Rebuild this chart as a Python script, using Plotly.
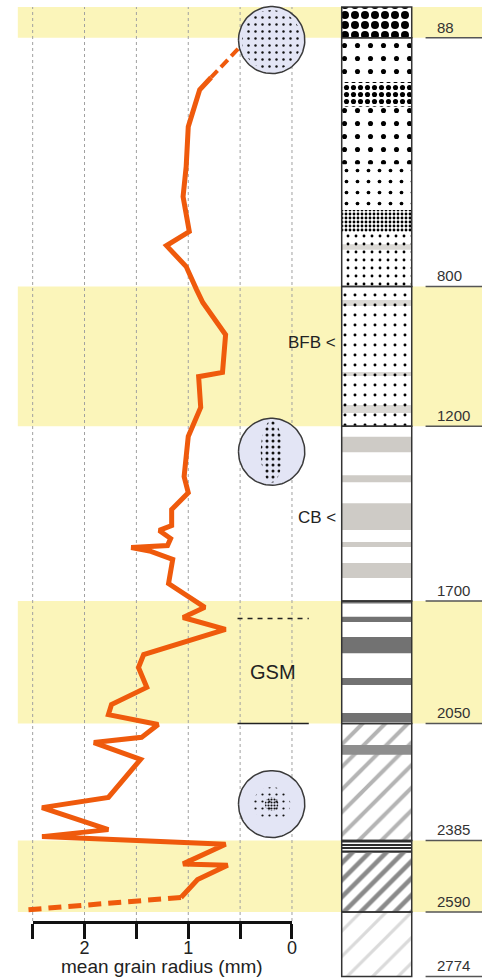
import numpy as np
import plotly.graph_objects as go

W, H = 487, 978

# mean grain radius (mm) against depth (m)
GRAIN_DEPTH = [202, 237, 343, 457, 543, 643, 683, 743, 809, 846, 938, 1046, 1058, 1146, 1229,
               1344, 1390, 1438, 1484, 1498, 1521, 1541, 1547, 1558, 1581, 1650, 1718, 1747, 1781,
               1853, 1890, 1947, 1996, 2025, 2053, 2090, 2105, 2153, 2262, 2291, 2354, 2374, 2396,
               2452, 2456, 2497, 2548]
GRAIN_R = [0.78, 0.89, 1.00, 1.02, 1.05, 0.99, 1.21, 1.02, 0.92, 0.86, 0.64, 0.67, 0.90, 0.88, 1.00,
           1.04, 1.00, 1.16, 1.16, 1.28, 1.17, 1.20, 1.55, 1.36, 1.15, 1.19, 0.84, 1.05, 0.64,
           1.43, 1.48, 1.40, 1.74, 1.77, 1.29, 1.45, 1.91, 1.46, 1.77, 2.41, 1.77, 2.41, 0.64,
           1.05, 0.62, 0.91, 1.07]
# extrapolated ends (dashed)
TOP_EXT_DEPTH = [120, 202]
TOP_EXT_R = [0.52, 0.78]
BOT_EXT_DEPTH = [2548, 2584]
BOT_EXT_R = [1.07, 2.58]

# climate periods (yellow) and unit boundaries
BAND_TOP = [0, 800, 1700, 2385]
BAND_BOTTOM = [88, 1200, 2050, 2590]
UNIT_TOP = [0, 88, 800, 1200, 1700, 2050, 2385, 2590]
UNIT_BOTTOM = [88, 800, 1200, 1700, 2050, 2385, 2590, 2774]

# stratigraphic column sub-layers (drawn in order)
LAYER_TOP = [0, 0, 88, 215, 286, 450, 581, 679, 644, 839, 1045, 1139, 800,
             1230, 1340, 1420, 1531, 1591,
             1700, 1745, 1803, 1920, 2020,
             2050, 2112, 2385, 2397, 2406, 2414, 2420, 2590]
LAYER_BOTTOM = [2774, 88, 215, 286, 450, 581, 644, 695, 800, 856, 1056, 1162, 1200,
                1274, 1360, 1497, 1545, 1634,
                1707, 1760, 1849, 1940, 2046,
                2385, 2140, 2391, 2400, 2409, 2420, 2590, 2774]
LAYER_FACIES = ["ice", "blobs", "coarse", "coarse_dense", "coarse", "medium", "fine_dense",
                "pale_band", "fine", "pale_band", "pale_band", "pale_band", "fine_sparse",
                "stripe", "stripe", "stripe", "stripe", "stripe",
                "dark_band", "dark_band", "dark_band", "dark_band", "dark_band",
                "swirl", "mid_band", "lamina", "lamina", "lamina", "lamina", "swirl_dark",
                "swirl_light"]

# fabric sketches: depth of each circle and its kind
CIRCLE_DEPTH = [95, 1273, 2281]
CIRCLE_KIND = ["random", "girdle", "single"]

GSM_TOP, GSM_BOTTOM = 1750, 2050
TICKS = [2.5, 2, 1.5, 1, 0.5, 0]
TICK_TEXT = ["", "2", "", "1", "", "0"]

CLEAR = "rgba(0,0,0,0)"
# facies: (pattern shape, size, solidity, fg, bg)
FACIES = {
    "ice": ("", 8, 0.3, "white", "white"),
    "blobs": (".", 10, 0.5, "black", "white"),
    "coarse": (".", 13, 0.12, "black", CLEAR),
    "coarse_dense": (".", 7, 0.42, "black", CLEAR),
    "medium": (".", 11, 0.09, "black", CLEAR),
    "fine_dense": (".", 4, 0.4, "black", CLEAR),
    "fine": (".", 8, 0.1, "black", CLEAR),
    "fine_sparse": (".", 10, 0.07, "black", CLEAR),
    "pale_band": ("", 8, 0.3, "#DAD8D4", "#DAD8D4"),
    "stripe": ("", 8, 0.3, "#CECBC6", "#CECBC6"),
    "dark_band": ("", 8, 0.3, "#727272", "#727272"),
    "mid_band": ("", 8, 0.3, "#8E8E8E", "#8E8E8E"),
    "lamina": ("", 8, 0.3, "#2E2E2E", "#2E2E2E"),
    "swirl": ("/", 16, 0.25, "#B4B4B4", "#F4F4F4"),
    "swirl_dark": ("/", 12, 0.38, "#8A8A8A", "#EAEAEA"),
    "swirl_light": ("/", 18, 0.18, "#DADADA", "#FBFBFB"),
}

X_RANGE = [2.815, -1.832]
Y_RANGE = [2778.5, -19.7]
SX = W / (X_RANGE[0] - X_RANGE[1])   # px per mm
SY = H / (Y_RANGE[0] - Y_RANGE[1])   # px per m
COL_X, COL_W = -0.817, 0.675
CIRCLE_X = 0.196
AXIS_Y = 1 - 921 / H
TOP_Y = 1 - 7 / H
FONT = "Liberation Sans, Arial, sans-serif"
ORANGE = "#EF5A0C"

fig = go.Figure()

# column
sty = [FACIES[f] for f in LAYER_FACIES]
fig.add_trace(go.Bar(
    x=[COL_X] * len(LAYER_TOP), base=LAYER_TOP,
    y=[b - t for t, b in zip(LAYER_TOP, LAYER_BOTTOM)], width=COL_W,
    marker=dict(color=[s[3] for s in sty], line_width=0,
                pattern=dict(shape=[s[0] for s in sty], size=[s[1] for s in sty],
                             solidity=[s[2] for s in sty], fgcolor=[s[3] for s in sty],
                             bgcolor=[s[4] for s in sty], fillmode="replace")),
    hoverinfo="skip"))
fig.add_trace(go.Bar(
    x=[COL_X] * len(UNIT_TOP), base=UNIT_TOP,
    y=[b - t for t, b in zip(UNIT_TOP, UNIT_BOTTOM)], width=COL_W,
    marker=dict(color=CLEAR, line=dict(color="#333333", width=1.5)),
    hoverinfo="skip"))

# grain radius profile
fig.add_trace(go.Scatter(x=GRAIN_R, y=GRAIN_DEPTH, mode="lines",
                         line=dict(color=ORANGE, width=5), hoverinfo="skip"))
fig.add_trace(go.Scatter(x=TOP_EXT_R, y=TOP_EXT_DEPTH, mode="lines",
                         line=dict(color=ORANGE, width=4, dash="10px,5px"), hoverinfo="skip"))
fig.add_trace(go.Scatter(x=BOT_EXT_R, y=BOT_EXT_DEPTH, mode="lines",
                         line=dict(color=ORANGE, width=5, dash="13px,7px"), hoverinfo="skip"))

# fabric circles
theta = np.linspace(0, 2 * np.pi, 91)


def ring(cy, rx, ry):
    return CIRCLE_X + rx / SX * np.cos(theta), cy + ry / SY * np.sin(theta)


DOT_REGIONS = {
    "random": [(30, 30, 7, 0.1)],
    "girdle": [(11, 31, 6, 0.2)],
    "single": [(19, 17, 7, 0.08), (7, 7, 3, 0.4)],
}
for cy, kind in zip(CIRCLE_DEPTH, CIRCLE_KIND):
    cxs, cys = ring(cy, 33.5, 33.5)
    fig.add_trace(go.Scatter(x=cxs, y=cys, mode="lines", fill="toself", fillcolor="#E3E5F5",
                             line=dict(color="#3A3A3A", width=1.5), hoverinfo="skip"))
    for rx, ry, size, sol in DOT_REGIONS[kind]:
        dxs, dys = ring(cy, rx, ry)
        fig.add_trace(go.Scatter(x=dxs, y=dys, mode="lines", fill="toself", fillcolor=CLEAR,
                                 line=dict(width=0, color=CLEAR),
                                 fillpattern=dict(shape=".", size=size, solidity=sol,
                                                  fgcolor="#111111", bgcolor=CLEAR,
                                                  fillmode="replace"),
                                 hoverinfo="skip"))

# dummy trace so the radius axis gets drawn
fig.add_trace(go.Scatter(x=[None], y=[None], xaxis="x2", yaxis="y2", hoverinfo="skip"))

# yellow bands
for t, b in zip(BAND_TOP, BAND_BOTTOM):
    fig.add_shape(type="rect", xref="paper", yref="y", x0=18 / W, x1=1, y0=t, y1=b,
                  fillcolor="#FBF5BA", line_width=0, layer="below")
# dotted grid
for v in TICKS:
    fig.add_shape(type="line", xref="x", yref="paper", x0=v, x1=v, y0=AXIS_Y, y1=TOP_Y,
                  line=dict(color="#A0A0A0", width=1, dash="dot"), layer="below")

# GSM brackets
fig.add_shape(type="line", x0=0.525, x1=-0.162, y0=GSM_TOP, y1=GSM_TOP,
              line=dict(color="#222222", width=1.5, dash="5px,5px"))
fig.add_shape(type="line", x0=0.525, x1=-0.162, y0=GSM_BOTTOM, y1=GSM_BOTTOM,
              line=dict(color="#222222", width=1.5))

# depth labels
for d in UNIT_BOTTOM:
    fig.add_shape(type="line", xref="paper", yref="y", x0=430 / W, x1=1, y0=d, y1=d,
                  line=dict(color="#555555", width=1.5))
    fig.add_annotation(x=440 / W, xref="paper", y=d, yref="y", text=str(d), showarrow=False,
                       xanchor="left", yanchor="bottom", yshift=0,
                       font=dict(size=15, color="#333333"))

fig.add_annotation(x=-0.44, y=959, text="BFB <", showarrow=False, xanchor="right",
                   font=dict(size=17, color="#222222"))
fig.add_annotation(x=-0.44, y=1460, text="CB <", showarrow=False, xanchor="right",
                   font=dict(size=17, color="#222222"))
fig.add_annotation(x=0.181, y=1903, text="GSM", showarrow=False,
                   font=dict(size=20, color="#222222"))
fig.add_annotation(x=164 / W, xref="paper", y=(978 - 966) / H, yref="paper",
                   text="mean grain radius (mm)", showarrow=False, yanchor="middle",
                   font=dict(size=19, color="#222222"))

fig.update_layout(
    width=W, height=H, margin=dict(l=0, r=0, t=0, b=0),
    paper_bgcolor="white", plot_bgcolor=CLEAR, showlegend=False, barmode="overlay",
    font=dict(family=FONT),
    xaxis=dict(range=X_RANGE, visible=False, domain=[0, 1]),
    yaxis=dict(range=Y_RANGE, visible=False, domain=[0, 1]),
    xaxis2=dict(domain=[33 / W, 295 / W], range=[2.5, 0], anchor="y2",
                tickvals=TICKS, ticktext=TICK_TEXT, ticks="outside", ticklen=15,
                tickwidth=3, tickcolor="#111111", showline=True, linewidth=3,
                linecolor="#111111", showgrid=False, zeroline=False, ticklabelstandoff=-7,
                tickfont=dict(size=18, color="#222222")),
    yaxis2=dict(domain=[AXIS_Y, TOP_Y], range=[0, 1], visible=False),
)

# page has a default body margin and may scroll; pin the figure to the window corner
fig.write_html(
    "out.html",
    config={"displayModeBar": False},
    post_script="document.body.style.margin='0';document.body.style.overflow='hidden';"
                "document.documentElement.style.overflow='hidden';",
)
